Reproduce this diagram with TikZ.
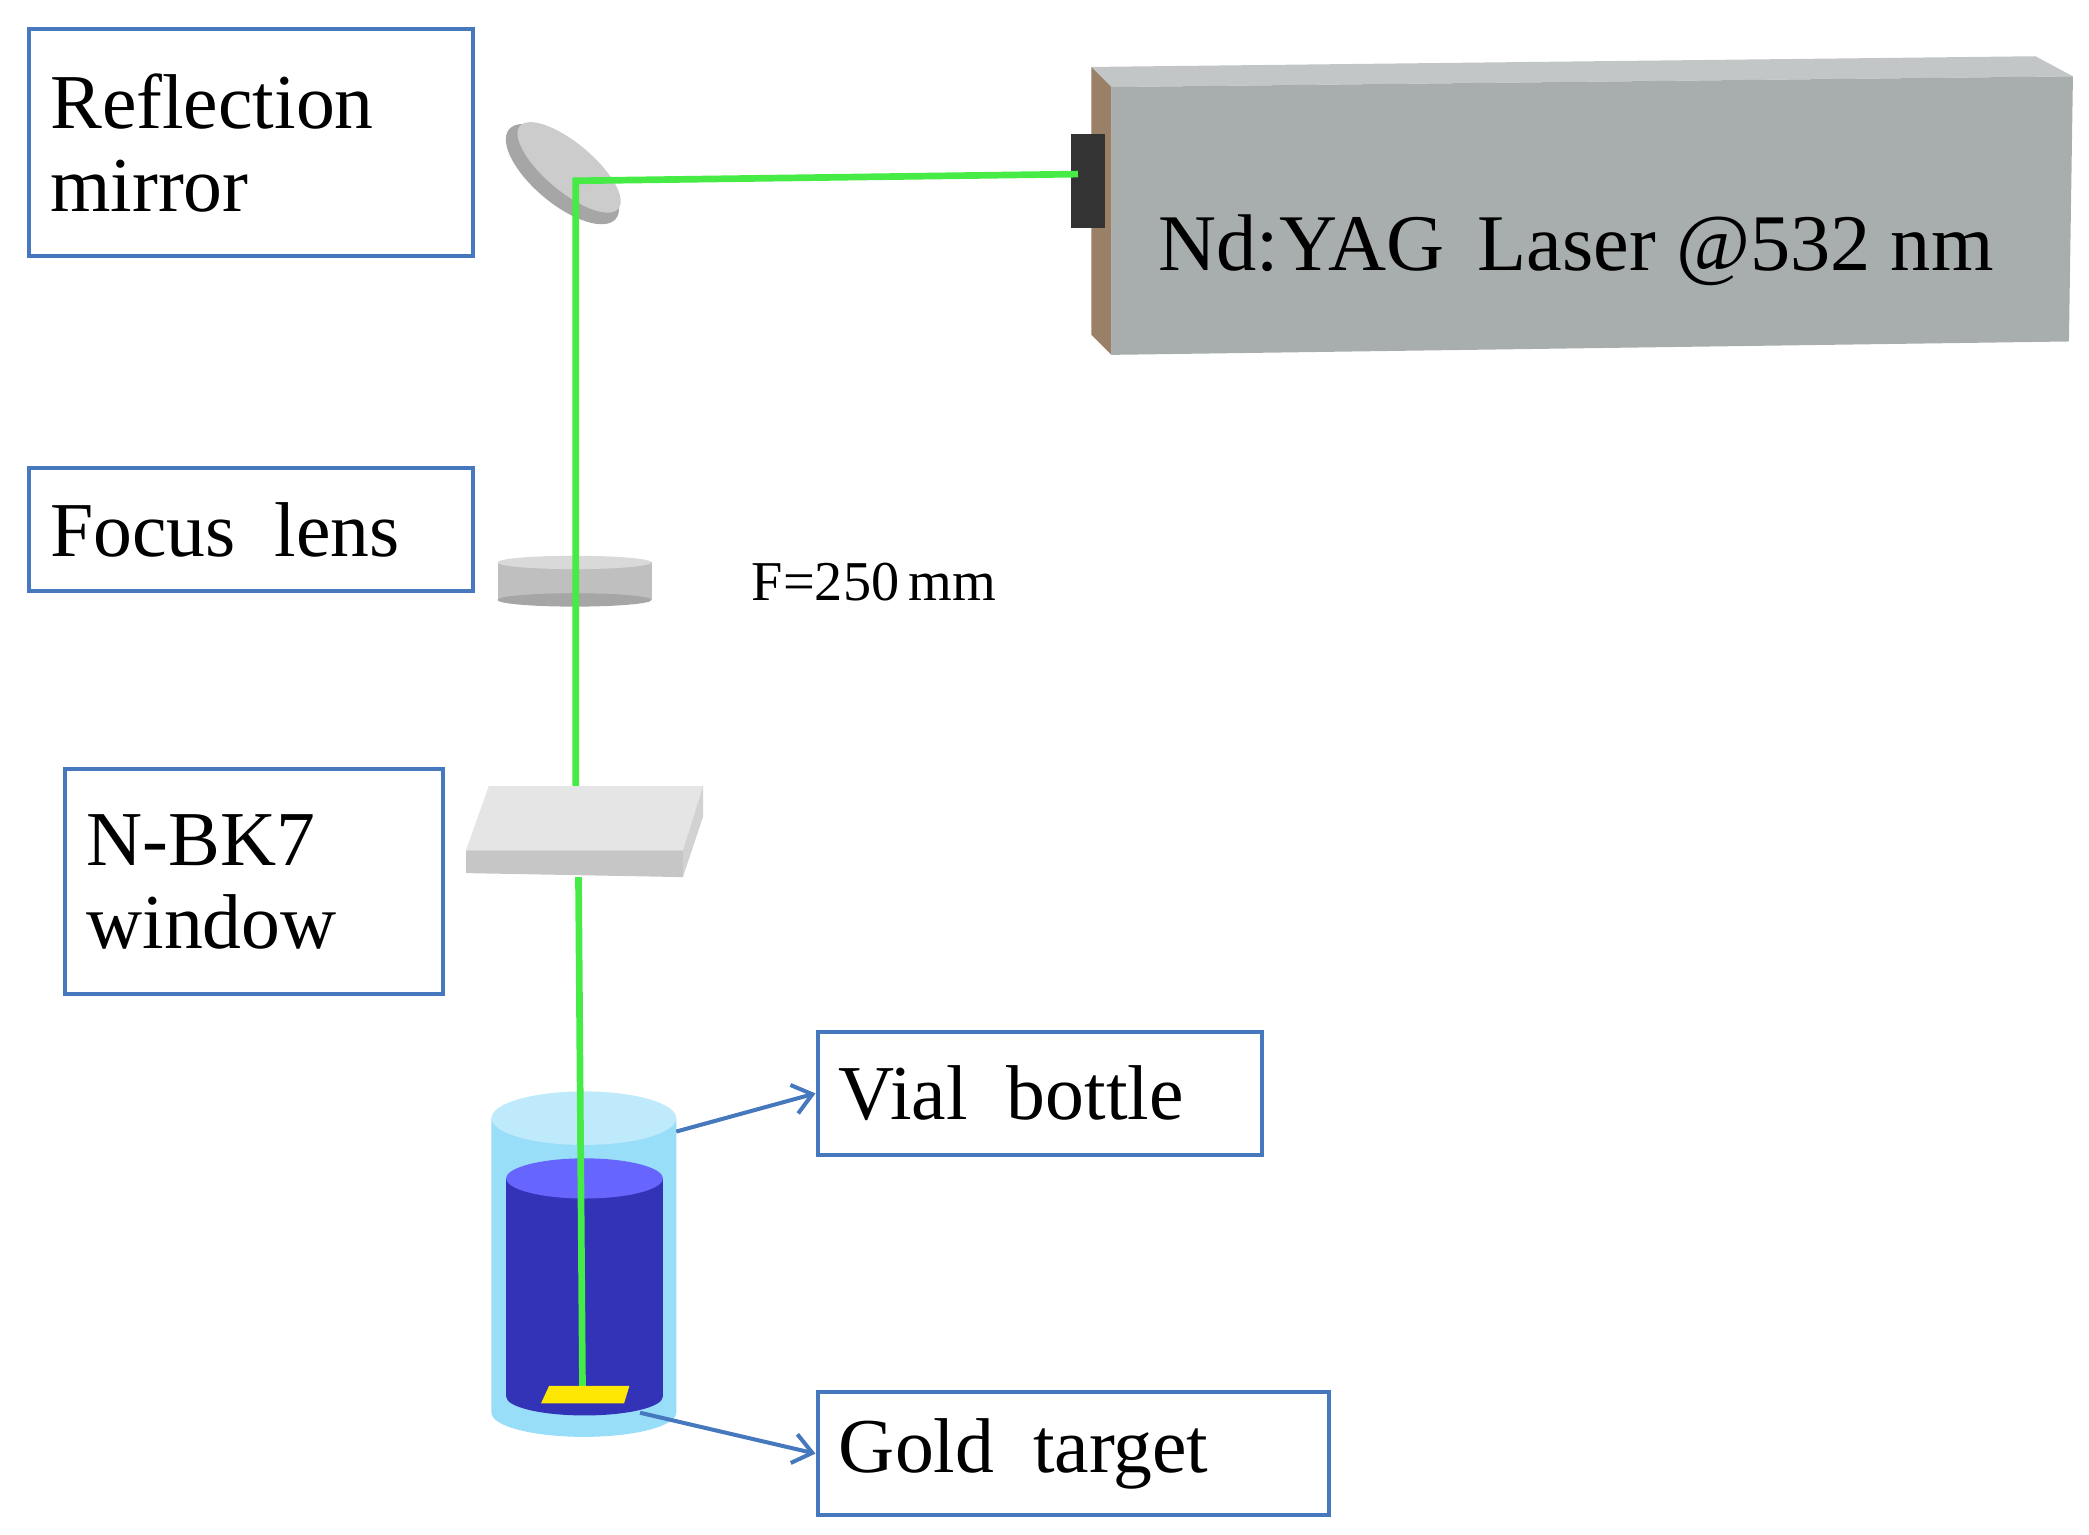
\documentclass[tikz,border=0pt]{standalone}
\usepackage{fontspec}
\setmainfont{Liberation Serif}
\usetikzlibrary{arrows.meta}
\begin{document}
\begin{tikzpicture}[x=1pt,y=-1pt]
\definecolor{bx}{RGB}{70,120,190}
\definecolor{lz}{RGB}{168,173,173}
\tikzset{
  lbl/.style={draw=bx, line width=3pt, anchor=north west, align=left, inner sep=0pt, font=\fontsize{58}{62}\selectfont},
  arr/.style={draw=bx, line width=3pt, -{Straight Barb[length=14pt,width=22pt,line width=3pt]}},
  beam/.style={draw={rgb,255:red,70;green,235;blue,70}, line width=5pt}}
\useasboundingbox (0,0) rectangle (1560,1146);
% laser
\fill[lz!70!white] (815,50) -- (1520,42) -- (1548,57) -- (830,65) -- cycle;
\fill[lz] (830,65) -- (1548,57) -- (1545,255) -- (830,265) -- cycle;
\fill[brown!40!gray] (815,50) -- (830,65) -- (830,265) -- (815,250) -- cycle;
\fill[black!80] (800,100) rectangle (825,170);
\node[font=\fontsize{60}{64}\selectfont] (laser) at (1177,187) {Nd:YAG\, Laser @532 nm};
% beam
\coordinate (src) at (805,130);
\coordinate (m) at (430,135);
\coordinate (tgt) at (435,1038);
% mirror
\fill[gray!70, rotate around={-40:(420,130)}] (420,130) ellipse (52 and 22);
\fill[gray!40, rotate around={-40:(425,125)}] (425,125) ellipse (48 and 18);
% lens
\fill[gray!50] (372,420) rectangle (487,448);
\fill[gray!70] (429,448) ellipse (57.5 and 5);
\fill[gray!30] (429,420) ellipse (57.5 and 5);
% vial outer & liquid
\fill[cyan!40] (367,835) -- (367,1055) arc (180:0:69 and 18) -- (505,835) -- cycle;
\fill[cyan!25] (436,835) ellipse (69 and 20);
\fill[blue!65!black!80] (378,880) -- (378,1043) arc (180:0:58.5 and 14) -- (495,880) -- cycle;
\fill[blue!60] (436.5,880) ellipse (58.5 and 15);
\draw[beam] (src) -- (m) -- (430,620);
% window
\fill[gray!20] (365,587) -- (525,587) -- (510,635) -- (348,635) -- cycle;
\fill[gray!45] (348,635) -- (510,635) -- (510,655) -- (348,652) -- cycle;
\fill[gray!35] (510,635) -- (525,587) -- (525,610) -- (510,655) -- cycle;
\draw[beam] (432,655) -- (tgt);
% gold
\fill[yellow!90!orange] (410,1035) -- (470,1035) -- (466,1048) -- (404,1048) -- cycle;
% labels
\node[lbl, minimum width=320, minimum height=170, text width=300, inner xsep=16pt] (rm) at (20,20) {Reflection\\mirror};
\node[lbl, minimum width=320, minimum height=92, text width=300, inner xsep=16pt] (fl) at (20,348) {Focus\, lens};
\node[lbl, minimum width=266, minimum height=168, text width=250, inner xsep=16pt] (bk) at (47,573) {N-BK7\\window};
\node[lbl, minimum width=320, minimum height=92, text width=300, inner xsep=16pt] (vb) at (609,769) {Vial\, bottle};
\node[lbl, minimum width=371, minimum height=92, text width=350, inner xsep=16pt] (gt) at (609,1038) {Gold\, target};
\node[font=\fontsize{42}{46}\selectfont, anchor=west] (f) at (558,435) {F=250\,mm};
\coordinate (va) at (505,845);
\coordinate (ga) at (478,1055);
\draw[arr] (va) -- (vb.west);
\draw[arr] (ga) -- (gt.west);
\end{tikzpicture}
\end{document}
